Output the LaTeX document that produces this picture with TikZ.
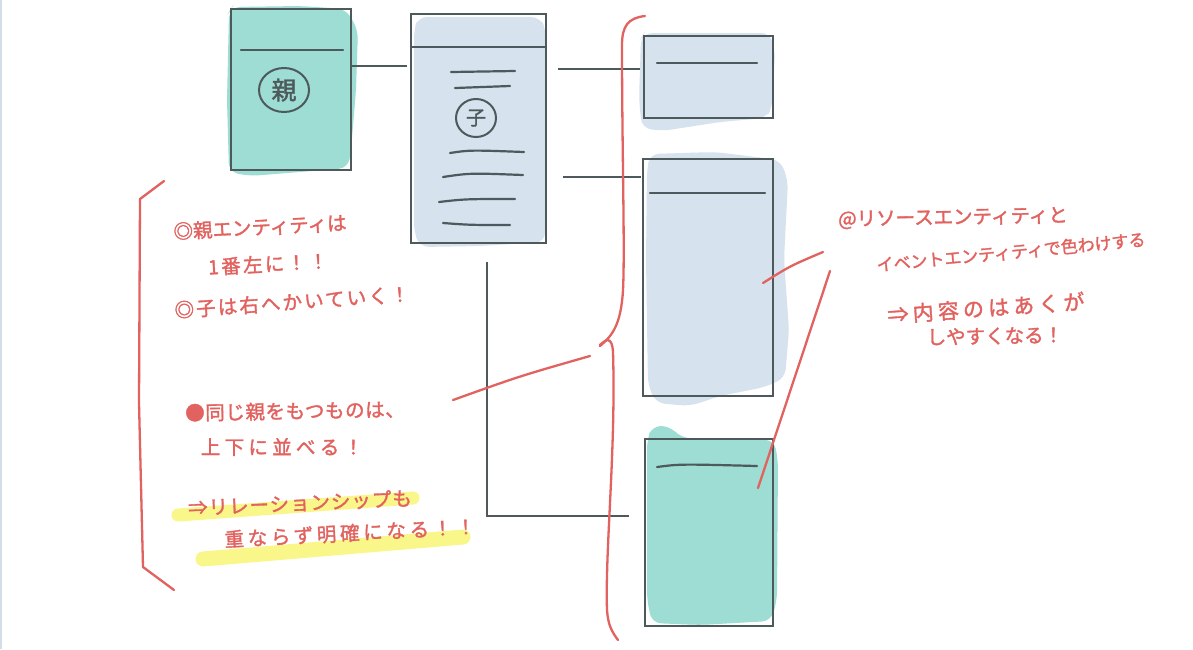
\documentclass[tikz,border=0pt]{standalone}
\usepackage{fontspec}
\newfontfamily\jp[FakeBold=1.6]{Noto Sans CJK JP}
\usetikzlibrary{calc,shapes.geometric}
\definecolor{ink}{HTML}{4E595C}
\definecolor{tealfill}{HTML}{9DDDD3}
\definecolor{bluefill}{HTML}{D6E2EE}
\definecolor{pen}{HTML}{E2625F}
\definecolor{marker}{HTML}{FAF78A}
\definecolor{edge}{HTML}{D3DDEA}
\begin{document}
\begin{tikzpicture}[x=1pt,y=-1pt,
  box/.style={draw=ink, line width=2.4pt, inner sep=0pt, outer sep=0pt},
  conn/.style={draw=ink, line width=2.4pt},
  inner/.style={draw=ink, line width=2.2pt, line cap=round},
  circ/.style={ellipse, draw=ink, line width=2pt, inner sep=0pt, text=ink},
  redline/.style={draw=pen, line width=2.3pt, line cap=round, line join=round},
  note/.style={text=pen, inner sep=0pt, anchor=center, font=\jp\fontsize{19.5}{22}\selectfont},
  blob/.style={rounded corners=9pt},
  hl/.style={draw=marker, line width=13pt, line cap=round},
]
\useasboundingbox[fill=white] (0,0) rectangle (1193,649);
\draw[edge, line width=1.5pt] (0.75,0) -- (0.75,649);

% colour fills
\fill[tealfill, blob] (232,7) -- (300,6) -- (346,9) -- (358,30) -- (356,90) -- (351,150) -- (348,168) -- (300,172) -- (250,176) -- (229,172) -- (227,100) -- (229,12) -- cycle;
\fill[bluefill, blob] (418,17) -- (540,17) -- (546,30) -- (545,242) -- (480,246) -- (420,247) -- (414,232) -- (414,30) -- cycle;
\fill[bluefill, blob] (644,33) -- (770,33) -- (775,50) -- (772,108) -- (766,118) -- (720,122) -- (662,131) -- (642,128) -- (639,100) -- (641,38) -- cycle;
\fill[bluefill, blob] (650,154) -- (715,152) -- (780,160) -- (788,180) -- (784,260) -- (789,330) -- (785,378) -- (765,387) -- (720,396) -- (690,406) -- (656,403) -- (648,385) -- (646,260) -- (647,170) -- cycle;
\fill[tealfill, blob] (652,426) -- (670,426) -- (681,438) -- (774,440) -- (778,460) -- (777,600) -- (771,621) -- (700,625) -- (652,623) -- (647,600) -- (647,440) -- cycle;

% highlighter
\draw[hl] (178,515) -- (413,498);
\draw[hl, line width=15pt] (203,559) -- (463,537);

% boxes
\node[box, minimum width=120pt, minimum height=161pt] (parent) at (291,89.5) {};
\node[box, minimum width=135pt, minimum height=229pt] (child) at (478.5,128.5) {};
\node[box, minimum width=129pt, minimum height=82pt] (res1) at (708.5,77) {};
\node[box, minimum width=130pt, minimum height=237pt] (res2) at (708,277.5) {};
\node[box, minimum width=128pt, minimum height=187pt] (evt) at (709,532.5) {};

% inner lines
\draw[inner] (241,50) -- (343,50);
\draw[conn] (child.north west |- 0,47) -- (child.north east |- 0,47);
\draw[inner] (451,72) -- (515,71);
\draw[inner] (455,88) -- (510,86);
\draw[inner] (450,153) .. controls (470,150) .. (524,152);
\draw[inner] (443,177) .. controls (470,173) .. (523,175);
\draw[inner] (439,202) .. controls (465,199) .. (515,199);
\draw[inner] (443,223) .. controls (470,225) .. (510,225);
\draw[inner] (657,63) -- (757,63);
\draw[inner] (650,193) -- (765,193);
\draw[inner] (657,467) .. controls (680,464) .. (757,466);

% circled labels
\node[circ, minimum width=50pt, minimum height=44pt, font=\jp\fontsize{25}{27}\selectfont] (oya) at (284,90) {親};
\node[circ, minimum width=40pt, minimum height=38pt, font=\jp\fontsize{20}{22}\selectfont] (ko) at (476,118) {子};

% connectors
\draw[conn, shorten >=4pt] (parent.east |- 0,66) -- (child.west |- 0,66);
\draw[conn, shorten <=12pt, shorten >=4pt] (child.east |- 0,69) -- (res1.west |- 0,69);
\draw[conn, shorten <=17pt, shorten >=2pt] (child.east |- 0,177) -- (res2.west |- 0,177);
\draw[conn, shorten <=19pt, shorten >=16pt] (child.south -| 487,0) |- (evt.west |- 0,516);

% left notes
\node[note, rotate=3] (n1) at (260,227) {◎親エンティティは};
\node[note, rotate=3] (n2) at (268,264) {\addfontfeature{LetterSpace=12}1番左に！！};
\node[note, rotate=4] (n3) at (292,302) {\addfontfeature{LetterSpace=11}◎子は右へかいていく！};
\node[note, rotate=1] (n4) at (295,411) {\addfontfeature{LetterSpace=3}●同じ親をもつものは、};
\node[note] (n5) at (282,447) {\addfontfeature{LetterSpace=22}上下に並べる！};
\node[note, rotate=2.5] (n6) at (300,503) {\addfontfeature{LetterSpace=5}⇒リレーションシップも};
\node[note, rotate=3] (n7) at (350,533) {\addfontfeature{LetterSpace=19}重ならず明確になる！！};

% right notes
\node[note, rotate=1] (m1) at (953,218) {@リソースエンティティと};
\node[note, rotate=5.5, font=\jp\fontsize{17}{20}\selectfont] (m2) at (1011,252) {イベントエンティティで色わけする};
\node[note, rotate=4, font=\jp\fontsize{21}{24}\selectfont] (m3) at (986,308) {\addfontfeature{LetterSpace=20}⇒内容のはあくが};
\node[note, rotate=1] (m4) at (995,336) {しやすくなる！};

% red brackets and pointers
\draw[redline] (164,181) -- (140,199) -- (139,403) -- (143,567) -- (174,590);
\draw[redline] (645,16) .. controls (628,18) and (622,26) .. (622,45) .. controls (622,150) and (625,250) .. (623,290) .. controls (621,325) and (612,336) .. (600,346);
\draw[redline] (600,345) .. controls (606,339) and (612,336) .. (613,352) .. controls (616,450) and (605,550) .. (607,610) .. controls (608,625) and (612,632) .. (618,640);
\coordinate (p1) at (453,400);
\coordinate (p2) at (590,356);
\draw[redline] (p1) .. controls (520,376) .. (p2);
\coordinate (q1) at (763,283);
\coordinate (q2) at (823,252);
\draw[redline] (q1) .. controls (790,266) .. (q2);
\coordinate (r1) at (830,271);
\coordinate (r2) at (758,488);
\draw[redline] (r1) -- (r2);
\end{tikzpicture}
\end{document}
